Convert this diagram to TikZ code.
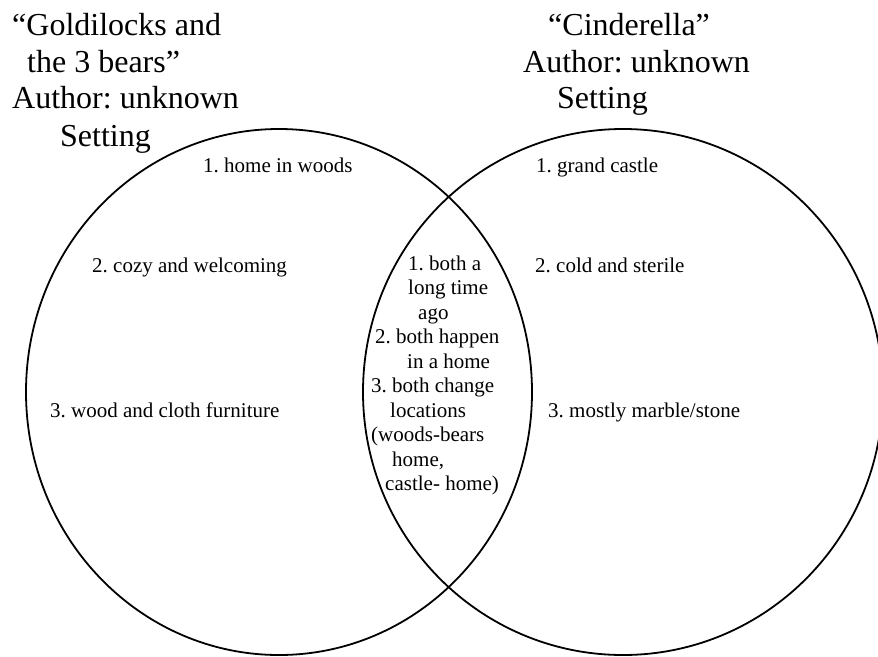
\documentclass[tikz,border=0pt]{standalone}
\usepackage{fontspec}
\setmainfont{Liberation Serif}
\usetikzlibrary{positioning}
\frenchspacing

\begin{document}
\begin{tikzpicture}[x=1pt,y=-1pt,
        title/.style={anchor=base west,inner sep=0pt,font=\fontsize{32}{37}\selectfont},
        item/.style={anchor=base west,inner sep=0pt,font=\fontsize{21}{24.5}\selectfont}]

        \useasboundingbox (0,0) rectangle (878,656);
        \clip (0,0) rectangle (878,656);

        % the two sets
        \draw[line width=1.8pt] (279,392) ellipse [x radius=253, y radius=263];
        \draw[line width=1.8pt] (623,392) ellipse [x radius=260, y radius=263];

        % headings
        \node[title] (goldi1) at (12,35) {“Goldilocks and};
        \node[title] (goldi2) at (27,72) {the 3 bears”};
        \node[title] (goldi3) at (12,108) {Author: unknown};
        \node[title] (goldi4) at (60,146) {Setting};

        \node[title] (cinder1) at (548,35) {“Cinderella”};
        \node[title] (cinder2) at (523,72) {Author: unknown};
        \node[title] (cinder3) at (557,108) {Setting};

        % left set
        \node[item] (goldiA) at (203,172) {1. home in woods};
        \node[item] (goldiB) at (92,272) {2. cozy and welcoming};
        \node[item] (goldiC) at (50,417) {3. wood and cloth furniture};

        % right set
        \node[item] (cinderA) at (536,172) {1. grand castle};
        \node[item] (cinderB) at (535,272) {2. cold and sterile};
        \node[item] (cinderC) at (548,417) {3. mostly marble/stone};

        % overlap
        \foreach \x/\txt [count=\i] in {408/1. both a, 408/long time, 418/ago,
                375/2. both happen, 407/in a home, 371/3. both change, 390/locations,
                371/(woods-bears, 392/{home,}, 385/castle- home)}
            \node[item] (both\i) at (\x,{245.5+24.5*\i}) {\txt};
\end{tikzpicture}
\end{document}
